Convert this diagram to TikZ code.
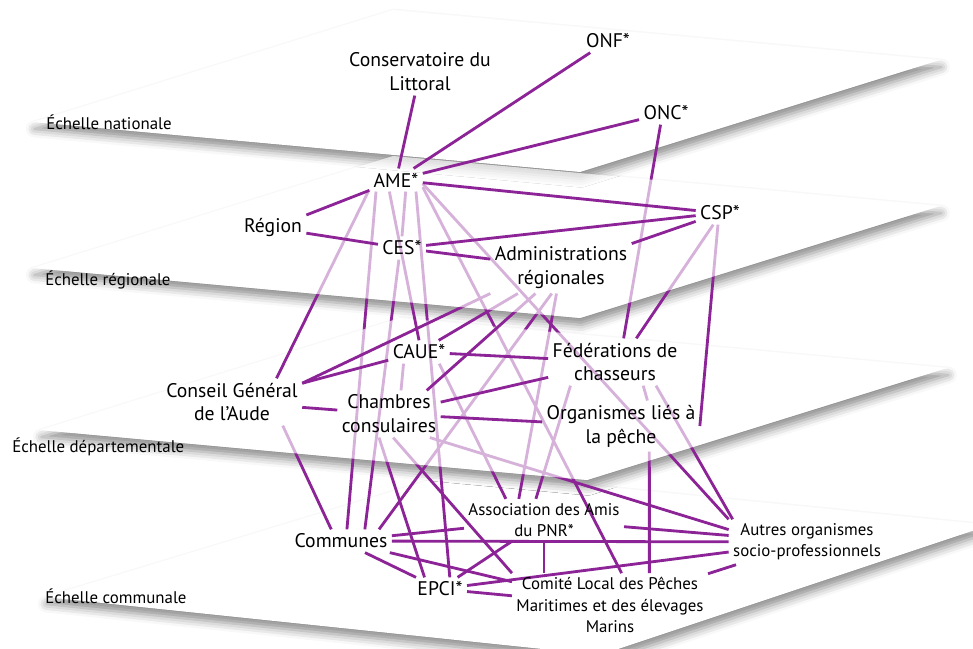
\documentclass[tikz,border=0pt]{standalone}
\usepackage{fontspec}
\setmainfont{PT Sans}
\usetikzlibrary{shadows.blur}
\definecolor{LinkClr}{RGB}{140,35,150}
\newcommand\actfont{\fontsize{14}{17}\selectfont}
\newcommand\lowfont{\fontsize{12}{15}\selectfont}
\newcommand\levelfont{\fontsize{12}{14}\selectfont}
\pgfdeclarelayer{planes}
\pgfdeclarelayer{deep}
\pgfdeclarelayer{veilc}
\pgfdeclarelayer{mid}
\pgfdeclarelayer{veilb}
\pgfdeclarelayer{links}
\pgfsetlayers{planes,deep,veilc,mid,veilb,links,main}

\begin{document}
\begin{tikzpicture}[x=0.025cm,y=-0.025cm,
  plane/.style={fill=white,blur shadow={shadow xshift=1pt,shadow yshift=-5pt,shadow blur radius=6pt,shadow opacity=45}},
  veil/.style={fill=white,fill opacity=0.65},
  actor/.style={font=\actfont,align=center,inner sep=3pt},
  lowactor/.style={font=\lowfont,align=center,inner sep=3pt},
  level/.style={font=\levelfont,anchor=west,inner sep=0pt},
  link/.style={draw=LinkClr,line width=2pt}]

\useasboundingbox (0,0) rectangle (973,649);

\begin{pgfonlayer}{planes}
\path[plane] (45,597) -- (456,472) -- (990,525) -- (600,655) -- cycle;
\path[plane] (40,430) -- (400,318) -- (947,368) -- (587,480) -- cycle;
\path[plane] (33,268) -- (393,156) -- (940,206) -- (580,318) -- cycle;
\path[plane] (33,122) -- (393,10) -- (940,60) -- (580,172) -- cycle;
\end{pgfonlayer}

\node[level] at (46,122) {Échelle nationale};
\node[level] at (45,280) {Échelle régionale};
\node[level] at (12,447) {Échelle départementale};
\node[level] at (45,596) {Échelle communale};

\node[actor] (cons) at (420,72) {Conservatoire du\\Littoral};
\node[actor] (onf) at (608,41) {ONF*};
\node[actor] (onc) at (666,113) {ONC*};
\node[actor] (ame) at (396,180) {AME*};
\node[actor] (region) at (273,228) {Région};
\node[actor] (ces) at (402,248) {CES*};
\node[actor] (csp) at (720,213) {CSP*};
\node[actor] (adm) at (561,268) {Administrations\\régionales};
\node[actor] (caue) at (419,352) {CAUE*};
\node[actor] (fed) at (615,362) {Fédérations de\\chasseurs};
\node[actor] (cg) at (232,402) {Conseil Général\\de l'Aude};
\node[actor] (chambres) at (389,414) {Chambres\\consulaires};
\node[actor] (org) at (621,426) {Organismes liés à\\la pêche};
\node[lowactor] (assoc) at (544,520) {Association des Amis\\du PNR*};
\node[actor] (communes) at (341,541) {Communes};
\node[lowactor] (autres) at (807,542) {Autres organismes\\socio-professionnels};
\node[actor] (epci) at (440,589) {EPCI*};
\node[lowactor] (comite) at (610,605) {Comité Local des Pêches\\Maritimes et des élevages\\Marins};

\begin{pgfonlayer}{deep}
\draw[link] (ame.-150) -- (communes.63);
\draw[link] (ame.-30) -- (epci.50);
\draw[link] (ame.-15) -- (comite.70);
\draw[link] (ame.-8) -- (autres.north west);
\draw[link] (ces.-105) -- (communes.26);
\draw[link] (adm.-110) -- (communes.17);
\draw[link] (adm.-100) -- (assoc.140);
\draw[link] (cg.-25) -- (communes.130);
\draw[link] (caue.-30) -- (assoc.151);
\draw[link] (chambres.-113) -- (epci.143);
\draw[link] (chambres.-80) -- (comite.north west);
\draw[link] (chambres.-30) -- (autres.171);
\draw[link] (fed.-152) -- (assoc.111);
\draw[link] (fed.-30) -- (autres.163);
\draw[link] (org.-42) -- (comite.39);
\draw[link] (caue.-143) -- (chambres.63);
\draw[link] (fed.-40) -- (org.44);
\end{pgfonlayer}

\begin{pgfonlayer}{veilc}
\path[veil] (40,430) -- (400,318) -- (947,368) -- (587,480) -- cycle;
\end{pgfonlayer}

\begin{pgfonlayer}{mid}
\draw[link] (ame.-50) -- (ces.north);
\draw[link] (ame.-160) -- (cg.28);
\draw[link] (ame.-120) -- (caue.north);
\draw[link] (adm.south west) -- (cg.15);
\draw[link] (adm) -- (caue);
\draw[link] (adm.-135) -- (chambres.32);
\draw[link] (csp.-120) -- (fed.48);
\draw[link] (csp.-100) -- (org.east);
\draw[link] (onc.-115) -- (fed.70);
\end{pgfonlayer}

\begin{pgfonlayer}{veilb}
\path[veil] (33,268) -- (393,156) -- (940,206) -- (580,318) -- cycle;
\end{pgfonlayer}

\begin{pgfonlayer}{links}
\draw[link] (cons) -- (ame);
\draw[link] (onf) -- (ame);
\draw[link] (onc) -- (ame);
\draw[link] (ame) -- (region);
\draw[link] (ame) -- (csp);
\draw[link] (region) -- (ces);
\draw[link] (ces) -- (csp);
\draw[link] (ces) -- (adm);
\draw[link] (csp) -- (adm);
\draw[link] (cg) -- (caue);
\draw[link] (cg) -- (chambres);
\draw[link] (caue) -- (fed);
\draw[link] (chambres) -- (fed);
\draw[link] (chambres) -- (org);
\draw[link] (communes) -- (assoc);
\draw[link] (communes) -- (autres);
\draw[link] (communes) -- (comite);
\draw[link] (communes) -- (epci);
\draw[link] (epci) -- (assoc);
\draw[link] (epci) -- (comite);
\draw[link] (epci) -- (autres);
\draw[link] (assoc) -- (autres);
\draw[link] (assoc.south) -- (assoc.south |- comite.north);
\draw[link] (autres) -- (comite);
\end{pgfonlayer}

\end{tikzpicture}
\end{document}
